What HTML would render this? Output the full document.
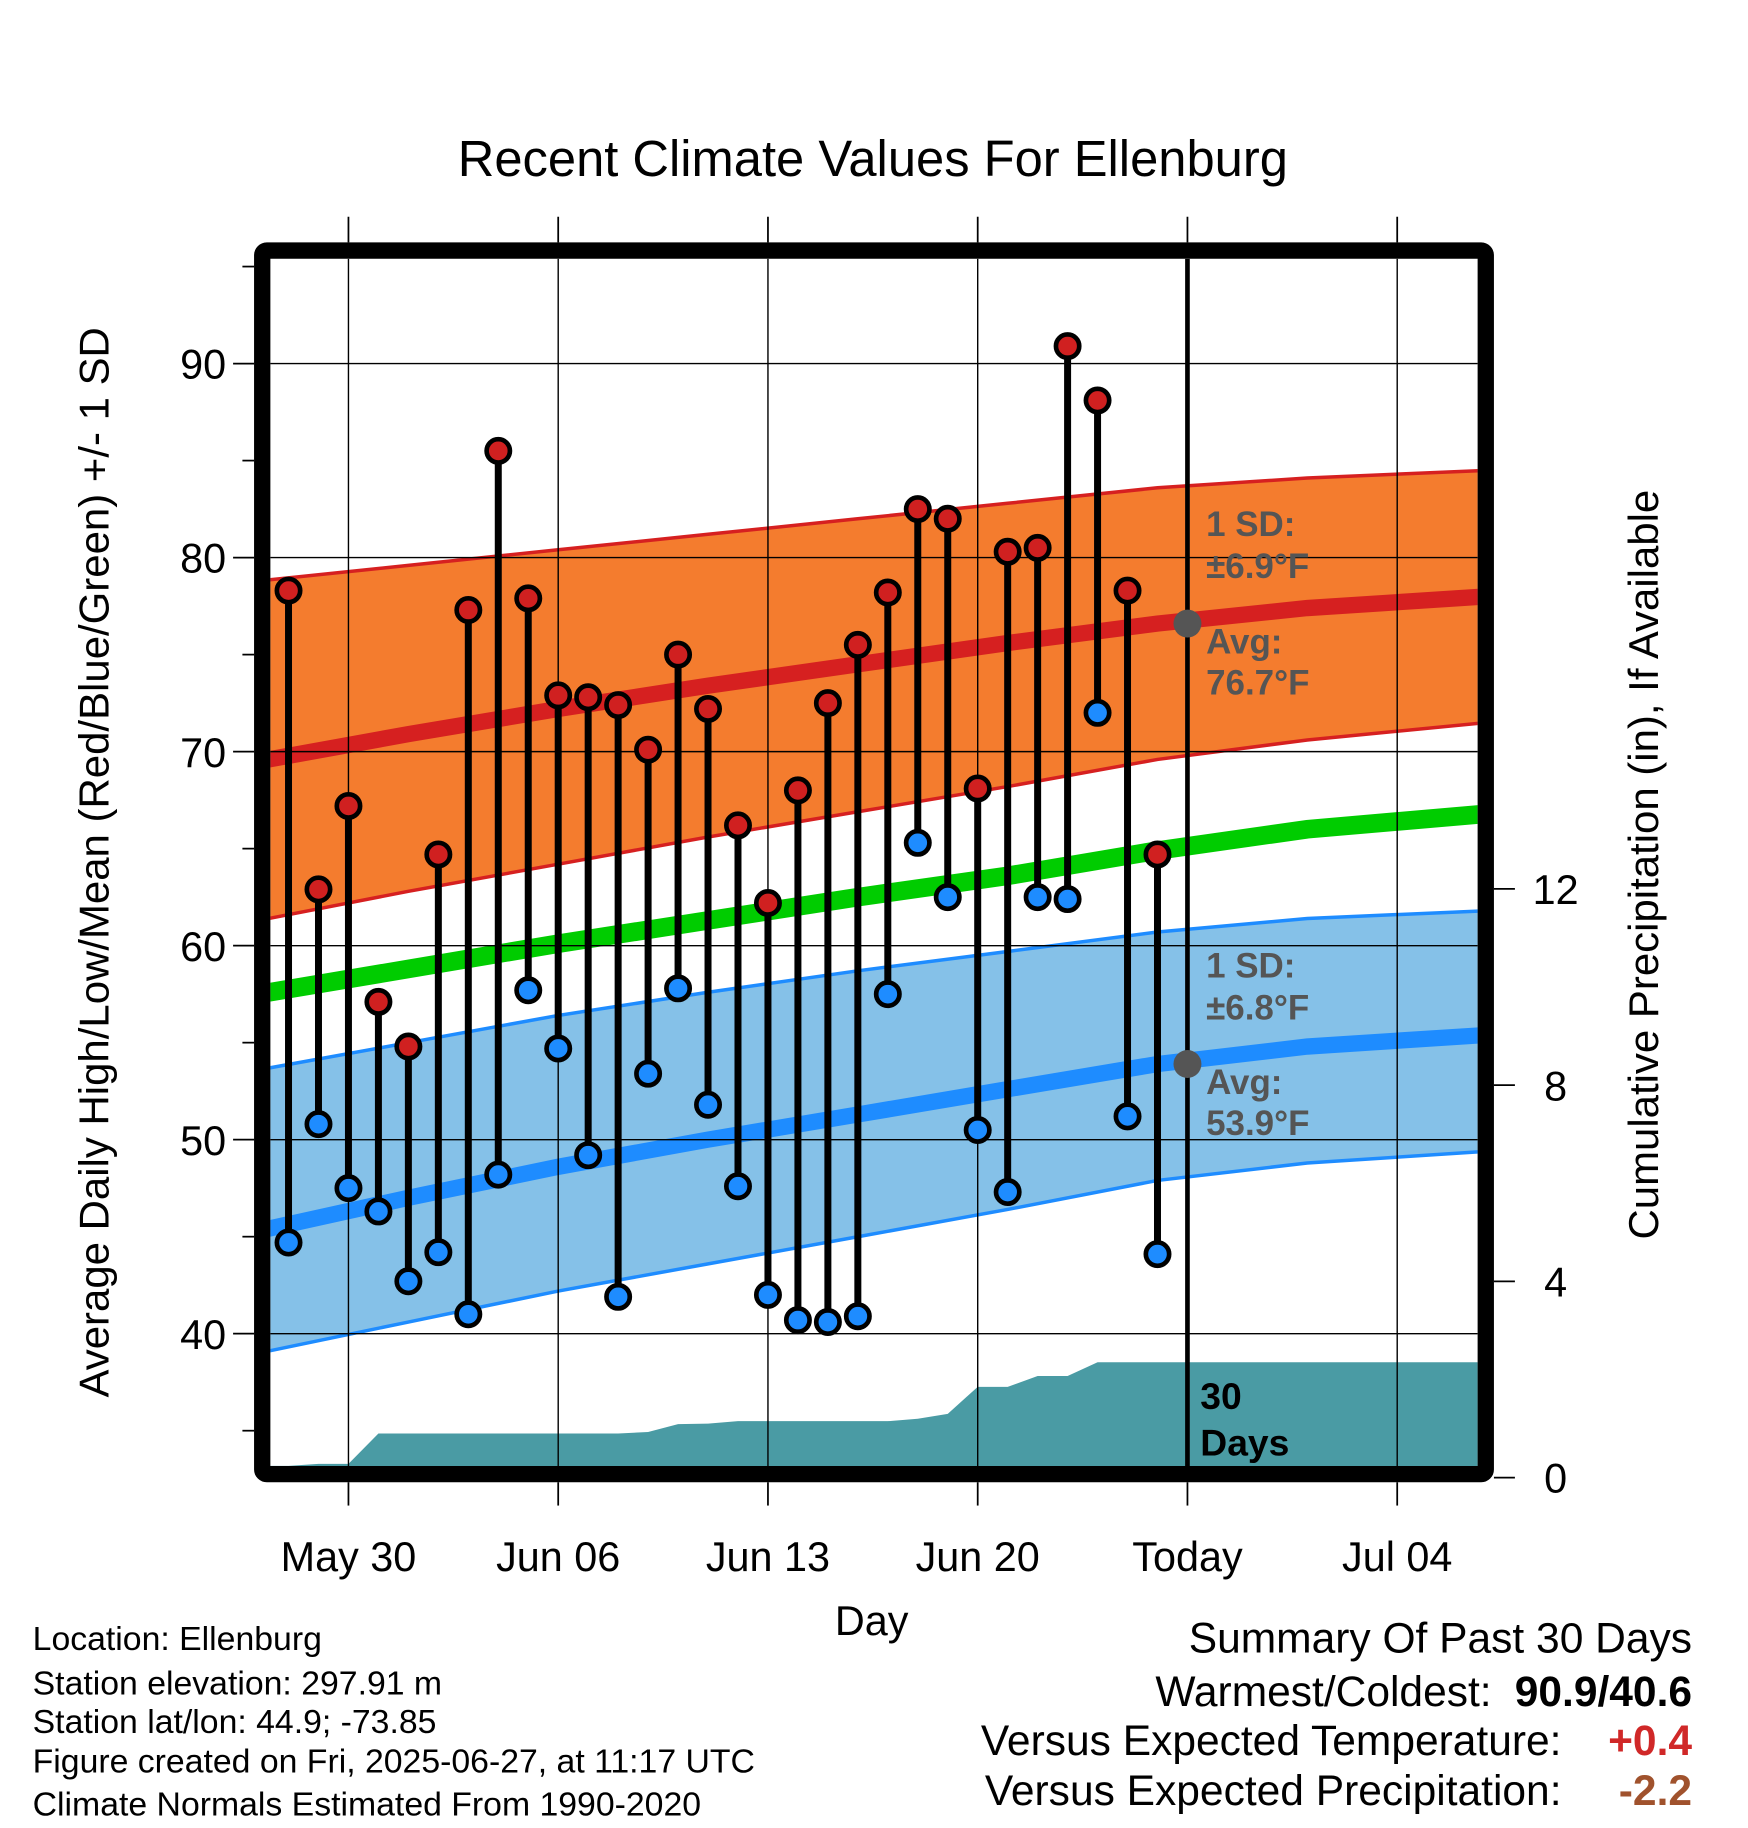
<!DOCTYPE html>
<html><head><meta charset="utf-8"><style>
html,body{margin:0;padding:0;background:#fff}
svg{display:block;font-family:"Liberation Sans",Arial,sans-serif}
</style></head><body>
<svg id="chart" width="1748" height="1828" viewBox="0 0 1500 1568.7" xmlns="http://www.w3.org/2000/svg">
<defs><clipPath id="pc"><rect x="232" y="222" width="1036" height="1036"/></clipPath></defs>
<text x="749" y="151" font-size="43.5" text-anchor="middle">Recent Climate Values For Ellenburg</text>
<g id="plot" clip-path="url(#pc)"></g>
<g id="axes"></g>
<text transform="translate(93,740) rotate(-90)" font-size="36" text-anchor="middle">Average Daily High/Low/Mean (Red/Blue/Green) +/- 1 SD</text>
<text transform="translate(1423,742) rotate(-90)" font-size="36" text-anchor="middle">Cumulative Precipitation (in), If Available</text>
<text x="748" y="1403" font-size="35.5" text-anchor="middle">Day</text>
<g font-size="29">
<text x="28" y="1416">Location: Ellenburg</text>
<text x="28" y="1454">Station elevation: 297.91 m</text>
<text x="28" y="1487">Station lat/lon: 44.9; -73.85</text>
<text x="28" y="1521">Figure created on Fri, 2025-06-27, at 11:17 UTC</text>
<text x="28" y="1558">Climate Normals Estimated From 1990-2020</text>
</g>
<g font-size="36.5">
<text x="1452" y="1418" text-anchor="end">Summary Of Past 30 Days</text>
<text x="1280" y="1464" text-anchor="end">Warmest/Coldest:</text>
<text x="1452" y="1464" text-anchor="end" font-weight="bold">90.9/40.6</text>
<text x="1340" y="1506" text-anchor="end">Versus Expected Temperature:</text>
<text x="1452" y="1506" text-anchor="end" font-weight="bold" fill="#d02828">+0.4</text>
<text x="1340" y="1549" text-anchor="end">Versus Expected Precipitation:</text>
<text x="1452" y="1549" text-anchor="end" font-weight="bold" fill="#a0522d">-2.2</text>
</g>
</svg>
<script>
const days=[-2,-1,0,1,2,3,4,5,6,7,8,9,10,11,12,13,14,15,16,17,18,19,20,21,22,23,24,25,26,27];
const highs=[78.3,62.9,67.2,57.1,54.8,64.7,77.3,85.5,77.9,72.9,72.8,72.4,70.1,75.0,72.2,66.2,62.2,68.0,72.5,75.5,78.2,82.5,82.0,68.1,80.3,80.5,90.9,88.1,78.3,64.7];
const lows=[44.7,50.8,47.5,46.3,42.7,44.2,41.0,48.2,57.7,54.7,49.2,41.9,53.4,57.8,51.8,47.6,42.0,40.7,40.6,40.9,57.5,65.3,62.5,50.5,47.3,62.5,62.4,72.0,51.2,44.1];
const precip=[0.24,0.28,0.28,0.9,0.9,0.9,0.9,0.9,0.9,0.9,0.9,0.9,0.93,1.09,1.1,1.15,1.15,1.15,1.15,1.15,1.15,1.2,1.3,1.85,1.85,2.07,2.07,2.35,2.35,2.35];
const normDays=[-3,2,7,12,17,22,27,32,38];
const hiAvg=[69.5,70.9,72.2,73.4,74.5,75.6,76.6,77.4,78.0];
const hiUp=[78.8,79.6,80.4,81.2,82.0,82.8,83.6,84.1,84.5];
const hiLo=[61.3,62.8,64.2,65.6,66.9,68.2,69.6,70.6,71.5];
const meanT=[57.5,58.8,60.1,61.3,62.5,63.6,64.9,66.0,66.8];
const loAvg=[45.3,47.0,48.6,50.0,51.3,52.6,53.9,54.8,55.4];
const loUp=[53.6,55.0,56.4,57.6,58.7,59.7,60.7,61.4,61.8];
const loLo=[39.0,40.6,42.2,43.6,45.0,46.4,47.9,48.8,49.4];
const yTicks=[40,50,60,70,80,90];
const pTicks=[0,4,8,12];
const xTickDays=[0,7,14,21,28,35];
const xTickLabels=["May 30","Jun 06","Jun 13","Jun 20","Today","Jul 04"];
const todayDay=28;

const NS="http://www.w3.org/2000/svg";
const X=d=>299+d*25.714;
const Y=t=>312+(90-t)*16.65;
const P=p=>1268-p*42.1;
function mk(tag,attrs,parent){const e=document.createElementNS(NS,tag);for(const k in attrs)e.setAttribute(k,attrs[k]);parent.appendChild(e);return e;}
const plot=document.getElementById('plot'),axes=document.getElementById('axes');
function pts(ds,vs,f){return ds.map((d,i)=>X(d).toFixed(1)+','+f(vs[i]).toFixed(1));}
function band(up,lo,fill,stroke,name){
 const a=pts(normDays,up,Y),b=pts(normDays,lo,Y).reverse();
 const p=mk('polygon',{points:a.concat(b).join(' '),fill:fill},plot);
 
 
 const l1=mk('polyline',{points:a.join(' '),fill:'none',stroke:stroke,'stroke-width':3},plot);
 
 
 const l2=mk('polyline',{points:b.join(' '),fill:'none',stroke:stroke,'stroke-width':3},plot);
 
 
}
band(hiUp,hiLo,'#f47c2e','#d62020','high-sd-band');
band(loUp,loLo,'#85c1e8','#1e8cff','low-sd-band');
function line(vs,color,w,name){const l=mk('polyline',{points:pts(normDays,vs,Y).join(' '),fill:'none',stroke:color,'stroke-width':w},plot);
 
 }
line(hiAvg,'#d62020',14,'avg-high-line');
line(meanT,'#00cc00',16,'avg-mean-line');
line(loAvg,'#1e8cff',14,'avg-low-line');
{let a=[X(-2.6)+','+P(precip[0])];days.forEach((d,i)=>a.push(X(d)+','+P(precip[i])));
 a.push(X(40)+','+P(precip[precip.length-1]));a.push(X(40)+','+1300);a.push(X(-3)+','+1300);
 const p=mk('polygon',{points:a.join(' '),fill:'#4a9ba4'},plot);
 
 }
yTicks.forEach(t=>{const g=mk('line',{x1:232,x2:1268,y1:Y(t),y2:Y(t),stroke:'#000','stroke-width':1.2},plot);
 
 });
xTickDays.forEach((d,i)=>{const g=mk('line',{x1:X(d),x2:X(d),y1:222,y2:1258,stroke:'#000','stroke-width':i==4?4:1.2},plot);
 
 });
days.forEach((d,i)=>{const s=mk('line',{x1:X(d),x2:X(d),y1:Y(highs[i]),y2:Y(lows[i]),stroke:'#000','stroke-width':6},plot);
 
 });
days.forEach((d,i)=>{
 const h=mk('circle',{cx:X(d),cy:Y(highs[i]),r:10,fill:'#d02020',stroke:'#000','stroke-width':4},plot);
 
 
 const l=mk('circle',{cx:X(d),cy:Y(lows[i]),r:10,fill:'#1e8cff',stroke:'#000','stroke-width':4},plot);
 
 });
function txt(x,y,s,attrs,name,parent){const t=mk('text',Object.assign({x:x,y:y},attrs),parent||plot);t.textContent=s;
 
 return t;}
const ann={'font-size':30,'font-weight':'bold',fill:'#555'};
const idxToday=normDays.indexOf(27);
{const c=mk('circle',{cx:X(todayDay),cy:Y(hiAvg[idxToday]),r:12,fill:'#555'},plot);
 
 
 const c2=mk('circle',{cx:X(todayDay),cy:Y(loAvg[idxToday]),r:12,fill:'#555'},plot);
 
 }
txt(1035,460,'1 SD:',ann,'high-sd-label');
txt(1035,496,'±6.9°F',ann,'high-sd-value');
txt(1035,561,'Avg:',ann,'high-avg-label');
txt(1035,596,'76.7°F',ann,'high-avg-value');
txt(1035,839,'1 SD:',ann,'low-sd-label');
txt(1035,875,'±6.8°F',ann,'low-sd-value');
txt(1035,939,'Avg:',ann,'low-avg-label');
txt(1035,974,'53.9°F',ann,'low-avg-value');
txt(1030,1209,'30',{'font-size':32,'font-weight':'bold'},'days-count');
txt(1030,1249,'Days',{'font-size':32,'font-weight':'bold'},'days-label');
{const f=mk('rect',{x:225,y:215,width:1050,height:1050,fill:'none',stroke:'#000','stroke-width':14,rx:4},axes);
 
 }
yTicks.forEach(t=>{const k=mk('line',{x1:200,x2:218,y1:Y(t),y2:Y(t),stroke:'#000','stroke-width':1.5},axes);
 
 
 txt(194,Y(t)+13,String(t),{'font-size':35.5,'text-anchor':'end'},'y-tick-label',axes);});
[35,45,55,65,75,85,95].forEach(t=>{const k=mk('line',{x1:208,x2:218,y1:Y(t),y2:Y(t),stroke:'#000','stroke-width':1.5},axes);
 
 });
pTicks.forEach(p=>{const k=mk('line',{x1:1282,x2:1300,y1:P(p),y2:P(p),stroke:'#000','stroke-width':1.5},axes);
 
 
 txt(1335,P(p)+13,String(p),{'font-size':35.5,'text-anchor':'middle'},'y2-tick-label',axes);});
xTickDays.forEach((d,i)=>{
 const k=mk('line',{x1:X(d),x2:X(d),y1:1272,y2:1292,stroke:'#000','stroke-width':1.5},axes);
 
 
 const k2=mk('line',{x1:X(d),x2:X(d),y1:186,y2:208,stroke:'#000','stroke-width':1.5},axes);
 
 
 txt(X(d),1348,xTickLabels[i],{'font-size':35.5,'text-anchor':'middle'},'x-tick-label',axes);});
</script>
</body></html>
